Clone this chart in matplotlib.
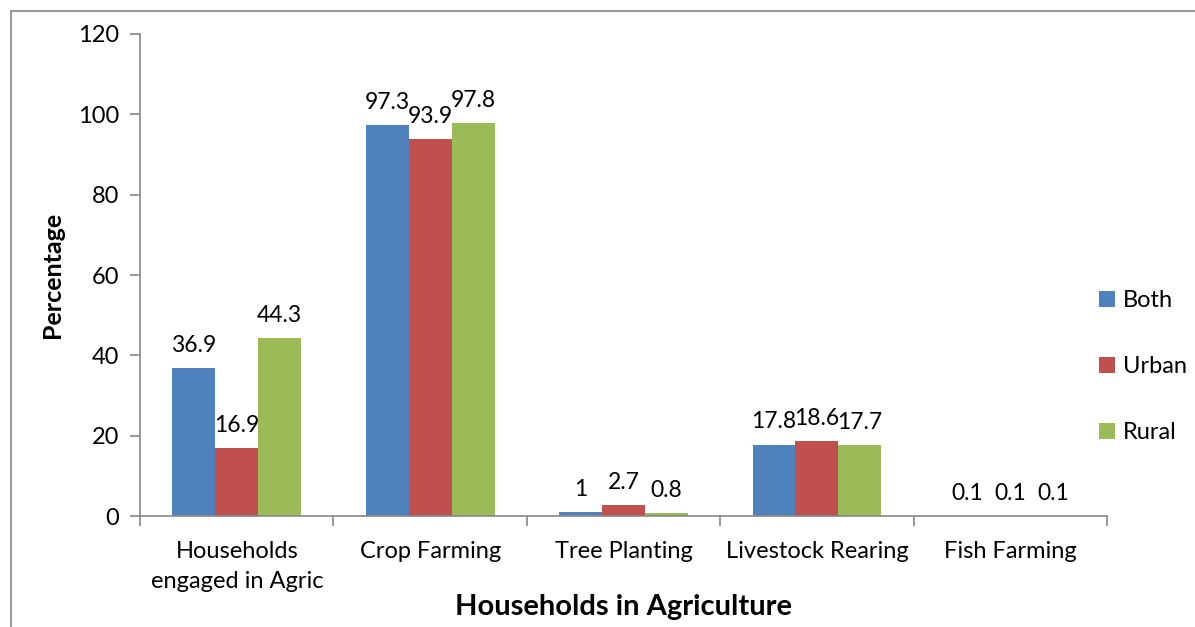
import numpy as np
import matplotlib.pyplot as plt
from matplotlib.patches import Rectangle

plt.rcParams['font.family'] = ['Lato', 'DejaVu Sans']

categories = ['Households\nengaged in Agric', 'Crop Farming', 'Tree Planting',
              'Livestock Rearing', 'Fish Farming']
both = [36.9, 97.3, 1, 17.8, 0.1]
urban = [16.9, 93.9, 2.7, 18.6, 0.1]
rural = [44.3, 97.8, 0.8, 17.7, 0.1]
series_names = ['Both', 'Urban', 'Rural']
colors = ['#4F81BD', '#C0504D', '#9BBB59']

axis_gray = '#868686'

fig = plt.figure(figsize=(11.95, 6.27), dpi=100)
ax = fig.add_axes([0.1172, 0.177, 0.8092, 0.7688])

# outer chart frame
fig.patches.append(Rectangle((11 / 1195, -0.1), 1.2, 1 - 11 / 627 + 0.1,
                             transform=fig.transFigure, fill=False,
                             edgecolor=axis_gray, linewidth=1.2))

x = np.arange(len(categories))
w = 0.222
handles = []
for i, (vals, name, c) in enumerate(zip([both, urban, rural], series_names, colors)):
    bars = ax.bar(x + (i - 1) * w, vals, width=w, color=c, label=name)
    handles.append(bars)
    for b, v in zip(bars, vals):
        ax.text(b.get_x() + b.get_width() / 2, v + 3, f'{v:g}',
                ha='center', va='bottom', fontsize=16.5)

ax.set_xlim(-0.5, len(categories) - 0.5)
ax.set_ylim(0, 120)
ax.set_yticks(range(0, 121, 20))
ax.set_xticks(x)
ax.set_xticklabels(categories, fontsize=17, linespacing=1.5)
ax.set_xticks(np.arange(-0.5, len(categories)), minor=True)
ax.tick_params(axis='x', which='major', length=0, pad=18)
ax.tick_params(axis='x', which='minor', length=7, color=axis_gray, width=1.2)
ax.tick_params(axis='y', length=7, color=axis_gray, width=1.2, labelsize=17, pad=8)

for side in ['top', 'right']:
    ax.spines[side].set_visible(False)
for side in ['left', 'bottom']:
    ax.spines[side].set_color(axis_gray)
    ax.spines[side].set_linewidth(1.2)

ax.set_ylabel('Percentage', fontsize=18, fontweight='bold', labelpad=10)
ax.set_xlabel('Households in Agriculture', fontsize=21, fontweight='bold', labelpad=2)

ax.legend(handles, series_names, loc='center left', bbox_to_anchor=(0.97, 0.31),
          frameon=False, fontsize=17, handlelength=0.65, handleheight=0.65,
          handletextpad=0.35, labelspacing=1.9)

fig.savefig('out.png', dpi=100)
